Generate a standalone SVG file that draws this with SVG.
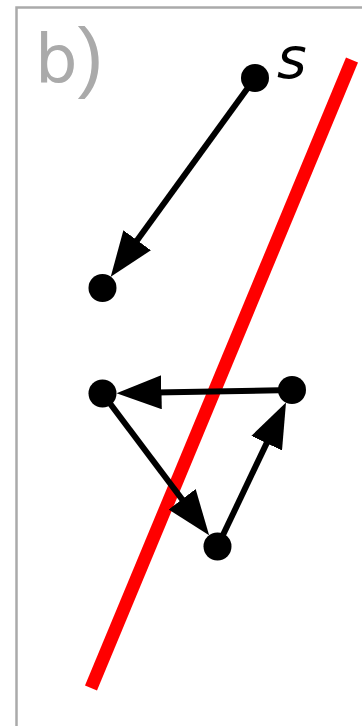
<svg xmlns="http://www.w3.org/2000/svg" width="362" height="726" viewBox="0 0 362 726">
<style>
.node{fill:#000}
.edge{stroke:#000;stroke-width:6;fill:none;marker-end:url(#arr)}
.lbl{font-family:"DejaVu Sans",sans-serif}
</style>
<defs>
<marker id="arr" markerUnits="userSpaceOnUse" viewBox="0 0 45 34" markerWidth="45" markerHeight="34" refX="35" refY="17" orient="auto">
<path d="M0,0 L45,17 L0,34 Z" fill="#000"/>
</marker>
</defs>
<rect x="16.5" y="7.5" width="400" height="800" fill="#fff" stroke="#aaa" stroke-width="2.5"/>
<text class="lbl" x="35" y="83" font-size="67" fill="#aaa">b<tspan font-family="Liberation Sans, sans-serif" font-size="78">)</tspan></text>
<line x1="352" y1="60" x2="91" y2="688" stroke="#f00" stroke-width="13"/>
<g id="connectors">
<line class="edge" x1="255" y1="78" x2="116.6" y2="268.6"/>
<line class="edge" x1="292" y1="390" x2="126.5" y2="393"/>
<line class="edge" x1="102.5" y1="393.5" x2="203.1" y2="527.3"/>
<line class="edge" x1="217.5" y1="546.5" x2="281.7" y2="411.6"/>
</g>
<g id="s"><circle class="node" cx="255" cy="78" r="14"/><text class="lbl" x="277" y="78" font-size="57" font-style="italic">s</text></g>
<g id="n2"><circle class="node" cx="102.5" cy="288" r="14"/></g>
<g id="n3"><circle class="node" cx="102.5" cy="393.5" r="14"/></g>
<g id="n4"><circle class="node" cx="292" cy="390" r="14"/></g>
<g id="n5"><circle class="node" cx="217.5" cy="546.5" r="14"/></g>
</svg>
